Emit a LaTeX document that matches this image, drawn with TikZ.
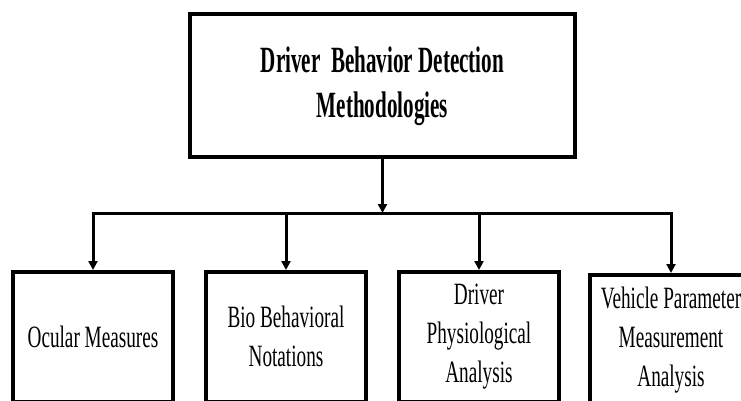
\documentclass[tikz,border=0pt]{standalone}
\usepackage{fontspec}
\setmainfont{Liberation Serif}[FakeStretch=0.62]
\newfontfamily\topfont{Liberation Serif}[FakeStretch=0.57]
\usetikzlibrary{arrows.meta}
\begin{document}
\begin{tikzpicture}[x=1pt,y=-1pt,
  topbox/.style={draw, line width=3.5pt, minimum width=385pt, minimum height=143pt, align=center,
     font=\topfont\fontsize{37}{45}\selectfont\bfseries, inner sep=0pt},
  subbox/.style={draw, line width=3.5pt, minimum width=160pt, minimum height=130pt, anchor=north, align=center,
     font=\fontsize{31}{39}\selectfont, inner sep=0pt},
  conn/.style={line width=3pt},
  arr/.style={line width=3pt, -{Triangle[width=9pt,length=9pt]}}]
\useasboundingbox (0,0) rectangle (741,400);
\clip (0,0) rectangle (741,400);
\node[topbox] (top) at (382.5,85.5) {\raisebox{4pt}{\begin{tabular}{@{}c@{}}Driver\ \ Behavior Detection\\Methodologies\end{tabular}}};
\node[subbox] (b1) at (93,270) {Ocular Measures};
\node[subbox] (b2) at (286,270) {Bio Behavioral\\Notations};
\node[subbox] (b3) at (479,270) {Driver\\Physiological\\Analysis};
\node[subbox, minimum width=162pt] (b4) at (671,273) {Vehicle\ Parameter\\Measurement\\Analysis};
\coordinate (bar) at (382,213);
\draw[arr] (top.south) -- (top.south |- bar);
\draw[conn] ([xshift=-1.5pt]b1.north |- bar) -- ([xshift=1.5pt]b4.north |- bar);
\draw[arr] (b1.north |- bar) -- (b1.north);
\draw[arr] (b2.north |- bar) -- (b2.north);
\draw[arr] (b3.north |- bar) -- (b3.north);
\draw[arr] (b4.north |- bar) -- (b4.north);
\end{tikzpicture}
\end{document}
